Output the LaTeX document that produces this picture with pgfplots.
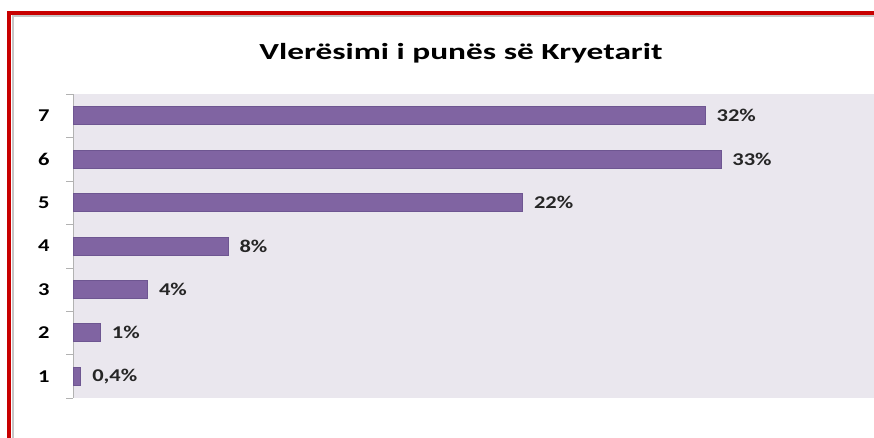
\documentclass[border=0pt]{standalone}
\usepackage{fontspec}
\setmainfont{Carlito}[FakeStretch=1.25]
\newfontfamily\titlefont{Carlito}[FakeStretch=1.45]
\usepackage{pgfplots}
\pgfplotsset{compat=1.18}
\definecolor{plotbg}{RGB}{234,231,238}
\definecolor{barfill}{RGB}{128,100,162}
\definecolor{baredge}{RGB}{110,86,145}
\definecolor{framered}{RGB}{200,0,0}

\begin{document}
\begin{tikzpicture}[x=1pt,y=1pt]
\useasboundingbox (0,0) rectangle (437,219);
\clip (0,0) rectangle (437,219);
% frame of the original slide
\draw[framered, line width=2pt] (4.5,-5) -- (4.5,212.5) -- (450,212.5);
\draw[gray!45, line width=0.8pt] (6.5,-5) -- (6.5,211) -- (450,211);
\node[font=\titlefont\bfseries\fontsize{11.5}{11.5}\selectfont, anchor=base] at (230.5,189.4)
  {Vlerësimi i punës së Kryetarit};
\begin{axis}[
  at={(36.5pt,20pt)}, anchor=south west,
  scale only axis, width=403.5pt, height=152pt,
  xbar, bar width=9pt,
  xmin=0, xmax=41.1, ymin=0.5, ymax=7.5,
  axis background/.style={fill=plotbg},
  axis x line=none, axis y line*=left,
  y axis line style={draw=gray!60, -},
  ytick={1,...,7}, major tick length=0pt,
  minor ytick={0.5,1.5,...,7.5}, minor tick length=3.5pt, tick align=outside,
  minor tick style={draw=gray!60},
  /pgf/number format/assume math mode=true,
  yticklabel style={font=\bfseries\fontsize{9}{9}\selectfont, inner sep=0pt, xshift=-11.5pt},
  nodes near coords, point meta=explicit symbolic,
  every node near coord/.append style={anchor=west, inner sep=0pt, xshift=5.5pt,
    font=\bfseries\fontsize{9}{9}\selectfont, text=black!85},
]
\addplot[fill=barfill, draw=baredge, line width=0.4pt] coordinates {
  (0.4,1) [0,4\%]
  (1.4,2) [1\%]
  (3.8,3) [4\%]
  (7.9,4) [8\%]
  (22.9,5) [22\%]
  (33,6) [33\%]
  (32.2,7) [32\%]
};
\end{axis}
\end{tikzpicture}
\end{document}
